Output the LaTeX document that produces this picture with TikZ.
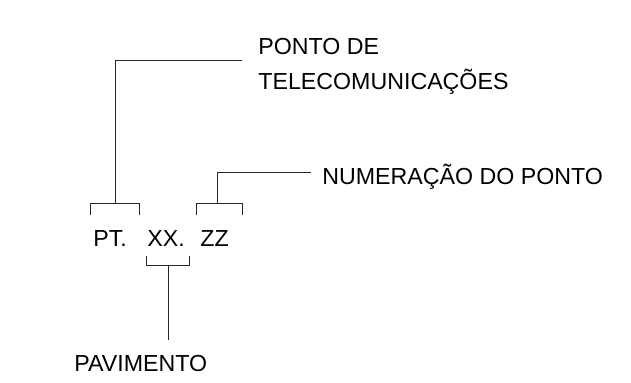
\documentclass[tikz,border=0pt]{standalone}
\usepackage{fontspec}
\setmainfont{Liberation Sans}
\usepackage{tikz}
\usetikzlibrary{calc,positioning}
\tikzset{
  rotulo/.style={anchor=base west,inner sep=0pt,font=\fontsize{11.6}{15}\selectfont},
  linha/.style={line width=0.5pt,draw=black!85}
}

\begin{document}
\begin{tikzpicture}[x=0.5pt,y=-0.5pt]
\useasboundingbox (0,0) rectangle (631,383);
%--- codigo do ponto ---
\node[rotulo] (pt) at (93,247) {PT.};
\node[rotulo] (xx) at (147,247) {XX.};
\node[rotulo] (zz) at (200,247) {ZZ};
%--- rotulos ---
\node[rotulo] (ponto) at (258,55) {PONTO DE};
\node[rotulo] (telecom) at (258,90) {TELECOMUNICAÇÕES};
\node[rotulo] (numeracao) at (322,185) {NUMERAÇÃO DO PONTO};
\node[rotulo] (pavimento) at (74,372) {PAVIMENTO};
% pontos de apoio das chaves
\coordinate (ptE) at (90,215);  \coordinate (ptD) at (139,215);
\coordinate (zzE) at (196,215); \coordinate (zzD) at (242,215);
\coordinate (xxE) at (146,256); \coordinate (xxD) at (189,256);
\coordinate (ptM) at (115,204); \coordinate (zzM) at (217,204);
\coordinate (xxM) at (168,266);
\coordinate (fimPonto) at (242,61);
\coordinate (fimNum) at (311,173);
\coordinate (fimPav) at (168,340);
%--- chave sobre PT. ---
\draw[linha] (ptE) -- (ptE |- ptM) -- (ptD |- ptM) -- (ptD);
\draw[linha] (ptM) |- (fimPonto);
%--- chave sobre ZZ ---
\draw[linha] (zzE) -- (zzE |- zzM) -- (zzD |- zzM) -- (zzD);
\draw[linha] (zzM) |- (fimNum);
%--- chave sob XX. ---
\draw[linha] (xxE) -- (xxE |- xxM) -- (xxD |- xxM) -- (xxD);
\draw[linha] (xxM) -- (fimPav);
\end{tikzpicture}
\end{document}
